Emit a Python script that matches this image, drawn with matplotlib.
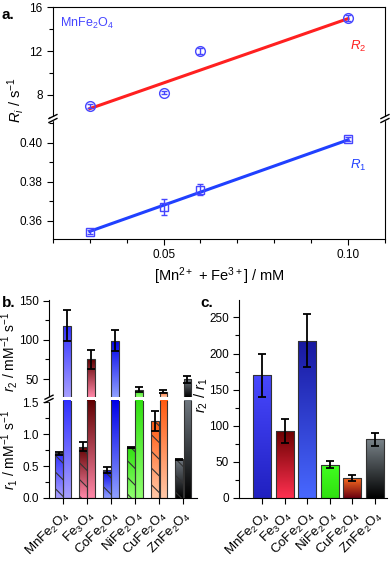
import numpy as np
import matplotlib as mpl
mpl.use('Agg')
import matplotlib.pyplot as plt
from matplotlib.colors import LinearSegmentedColormap
from matplotlib.lines import Line2D
from matplotlib.ticker import MultipleLocator

plt.rcParams['font.family'] = ['Liberation Sans', 'DejaVu Sans']
plt.rcParams['mathtext.fontset'] = 'custom'
plt.rcParams['mathtext.rm'] = 'Liberation Sans'
plt.rcParams['mathtext.it'] = 'Liberation Sans:italic'
plt.rcParams['mathtext.bf'] = 'Liberation Sans:bold'
plt.rcParams['xtick.direction'] = 'out'
plt.rcParams['ytick.direction'] = 'out'
plt.rcParams['hatch.linewidth'] = 0.8

# panel a data
conc = [0.03, 0.05, 0.06, 0.10]
R2 = [7.0, 8.2, 12.0, 15.0]
R2_err = [0.15, 0.15, 0.3, 0.3]
R1 = [0.354, 0.367, 0.376, 0.402]
R1_err = [0.001, 0.004, 0.003, 0.001]
R2_fit = (117.1, 3.24)     # slope, intercept
R1_fit = (0.671, 0.3344)

# panels b, c data
names = ['MnFe$_2$O$_4$', 'Fe$_3$O$_4$', 'CoFe$_2$O$_4$',
         'NiFe$_2$O$_4$', 'CuFe$_2$O$_4$', 'ZnFe$_2$O$_4$']
r1 = [0.70, 0.80, 0.44, 0.79, 1.21, 0.605]
r1_err = [0.02, 0.07, 0.045, 0.01, 0.16, 0.01]
r2 = [118, 75, 99, 36.5, 34, 49.5]
r2_err = [20, 12, 13.5, 3.5, 1.5, 5]
ratio = [170, 93, 218, 46, 28, 81]
ratio_err = [30, 17, 36.5, 5, 4.5, 8.8]

# gradient colours (top, bottom)
cols_b = [('#3030ff', '#a8a0ff'), ('#600000', '#ff88a8'), ('#0000e8', '#90a0ff'),
          ('#30e010', '#90ff70'), ('#ff5a10', '#ffc8a8'), ('#707880', '#000000')]
cols_c = [('#4848ff', '#2020c0'), ('#6a0000', '#ff3050'), ('#1818a0', '#4868ff'),
          ('#40ff20', '#30e010'), ('#ff7020', '#6a0010'), ('#7a848a', '#000000')]

BLUE = '#4646ff'
TS = 8.5   # tick label size


def grad_bar(ax, x, h, w, top, bot, ylim, hatch=None):
    b = ax.bar(x, h, w, facecolor='none', edgecolor='#333333', lw=0.8,
               hatch=hatch, zorder=3)[0]
    y0 = max(0, ylim[0])
    y1 = min(h, ylim[1])
    if y1 <= y0:
        return
    cmap = LinearSegmentedColormap.from_list('g', [bot, top])
    grad = np.linspace(0, 1, 256).reshape(-1, 1)
    im = ax.imshow(grad, cmap=cmap, extent=[x - w/2, x + w/2, y0, y1],
                   origin='lower', aspect='auto', zorder=2, interpolation='bilinear')
    im.set_clip_path(b)


def brk(fig, x, y, gap=0.007):
    dx, dy = 8/392, 4/563
    fig.add_artist(plt.Rectangle((x - 0.005, y - gap/2), 0.01, gap,
                                 transform=fig.transFigure, color='white', zorder=10))
    for yy in (y - gap/2, y + gap/2):
        fig.add_artist(Line2D([x - dx/2, x + dx/2], [yy - dy/2, yy + dy/2],
                              transform=fig.transFigure, color='black', lw=1.0, zorder=11))


fig = plt.figure(figsize=(3.92, 5.63), dpi=100)

# ---------------- panel a ----------------
axa1 = fig.add_axes([0.135, 0.7904, 0.847, 0.197])
axa2 = fig.add_axes([0.135, 0.5755, 0.847, 0.2131])
xf = np.array([conc[0], conc[-1]])
axa1.plot(xf, R2_fit[0]*xf + R2_fit[1], color='#ff2020', lw=2.2, zorder=2)
axa1.errorbar(conc, R2, yerr=R2_err, fmt='o', mfc='none', mec=BLUE, ecolor=BLUE,
              ms=7, mew=1.0, capsize=2, elinewidth=1, zorder=3)
axa2.plot(xf, R1_fit[0]*xf + R1_fit[1], color='#2040ff', lw=2.2, zorder=2)
axa2.errorbar(conc, R1, yerr=R1_err, fmt='s', mfc='none', mec=BLUE, ecolor=BLUE,
              ms=6, mew=1.0, capsize=2.5, elinewidth=1, zorder=3)
for ax in (axa1, axa2):
    ax.set_xlim(0.02, 0.11)
    ax.xaxis.set_major_locator(MultipleLocator(0.05))
    ax.xaxis.set_minor_locator(MultipleLocator(0.01))
    ax.tick_params(labelsize=TS, length=4, width=0.8)
    ax.tick_params(which='minor', length=3, width=0.8)
axa1.set_ylim(5.9, 16)
axa1.yaxis.set_major_locator(MultipleLocator(4))
axa1.yaxis.set_minor_locator(MultipleLocator(2))
axa1.spines['bottom'].set_visible(False)
axa1.tick_params(axis='x', which='both', bottom=False, labelbottom=False)
axa2.set_ylim(0.3506, 0.4122)
axa2.yaxis.set_major_locator(MultipleLocator(0.02))
axa2.yaxis.set_minor_locator(MultipleLocator(0.01))
axa2.yaxis.set_major_formatter(mpl.ticker.FormatStrFormatter('%.2f'))
axa2.xaxis.set_major_formatter(mpl.ticker.FormatStrFormatter('%.2f'))
axa2.spines['top'].set_visible(False)
axa2.set_xlabel('[Mn$^{2+}$ + Fe$^{3+}$] / mM', fontsize=10.5, labelpad=3)
fig.text(0.04, 0.822, '$R_i$ / s$^{-1}$', rotation=90, fontsize=10.5,
         ha='center', va='center')
axa1.text(0.0219, 14.5, 'MnFe$_2$O$_4$', color=BLUE, fontsize=9, va='center')
axa1.text(0.1006, 12.4, '$R_2$', color='#ff2020', fontsize=9.5, va='center')
axa2.text(0.1006, 0.3886, '$R_1$', color='#2040ff', fontsize=9.5, va='center')
brk(fig, 0.135, 0.7895)
brk(fig, 0.982, 0.7895)
fig.text(0.005, 0.985, 'a.', fontsize=11, fontweight='bold', va='top')

# ---------------- panel b ----------------
axb1 = fig.add_axes([0.125, 0.2948, 0.378, 0.1723])
axb2 = fig.add_axes([0.125, 0.1155, 0.378, 0.1723])
lim1 = (27, 151)
lim2 = (0, 1.52)
w = 0.32
xs = np.arange(1, 7)
for i, x in enumerate(xs):
    top, bot = cols_b[i]
    grad_bar(axb1, x + 0.175, r2[i], w, top, bot, lim1)
    grad_bar(axb2, x + 0.175, r2[i], w, top, bot, lim2)
    grad_bar(axb2, x - 0.175, r1[i], w, top, bot, lim2, hatch='\\\\')
axb1.errorbar(xs + 0.175, r2, yerr=r2_err, fmt='none', ecolor='black',
              elinewidth=1.3, capsize=3, capthick=1.3, zorder=4)
axb2.errorbar(xs - 0.175, r1, yerr=r1_err, fmt='none', ecolor='black',
              elinewidth=1.3, capsize=3, capthick=1.3, zorder=4)
for ax in (axb1, axb2):
    ax.set_xlim(0.42, 6.58)
    ax.spines['top'].set_visible(False)
    ax.spines['right'].set_visible(False)
    ax.tick_params(labelsize=TS, length=4, width=0.8)
    ax.tick_params(which='minor', length=3, width=0.8)
axb1.set_ylim(*lim1)
axb1.yaxis.set_major_locator(MultipleLocator(50))
axb1.yaxis.set_minor_locator(MultipleLocator(25))
axb1.spines['bottom'].set_visible(False)
axb1.tick_params(axis='x', bottom=False, labelbottom=False)
axb2.set_ylim(*lim2)
axb2.yaxis.set_major_locator(MultipleLocator(0.5))
axb2.yaxis.set_minor_locator(MultipleLocator(0.25))
axb2.yaxis.set_major_formatter(mpl.ticker.FormatStrFormatter('%.1f'))
axb2.set_xticks(xs)
axb2.set_xticklabels(names, rotation=45, ha='right', rotation_mode='anchor', fontsize=9.5)
axb1.set_ylabel('$r_2$ / mM$^{-1}$ s$^{-1}$', fontsize=10)
axb2.set_ylabel('$r_1$ / mM$^{-1}$ s$^{-1}$', fontsize=10)
axb1.yaxis.set_label_coords(-0.195, 0.47)
axb2.yaxis.set_label_coords(-0.195, 0.5)
brk(fig, 0.125, 0.2915, gap=0.006)
fig.text(0.006, 0.474, 'b.', fontsize=11, fontweight='bold', va='top')

# ---------------- panel c ----------------
axc = fig.add_axes([0.61, 0.1155, 0.377, 0.3515])
lim3 = (0, 274)
for i, x in enumerate(xs):
    top, bot = cols_c[i]
    grad_bar(axc, x, ratio[i], 0.8, top, bot, lim3)
axc.errorbar(xs, ratio, yerr=ratio_err, fmt='none', ecolor='black',
             elinewidth=1.3, capsize=3, capthick=1.3, zorder=4)
axc.set_xlim(-0.02, 6.53)
axc.set_ylim(*lim3)
axc.yaxis.set_major_locator(MultipleLocator(50))
axc.yaxis.set_minor_locator(MultipleLocator(25))
axc.spines['top'].set_visible(False)
axc.spines['right'].set_visible(False)
axc.tick_params(labelsize=TS, length=4, width=0.8)
axc.tick_params(which='minor', length=3, width=0.8)
axc.set_xticks(xs)
axc.set_xticklabels(names, rotation=45, ha='right', rotation_mode='anchor', fontsize=9.5)
axc.set_ylabel('$r_2$ / $r_1$', fontsize=10.5)
axc.yaxis.set_label_coords(-0.2, 0.52)
fig.text(0.51, 0.474, 'c.', fontsize=11, fontweight='bold', va='top')

fig.savefig('out.png', dpi=100)
